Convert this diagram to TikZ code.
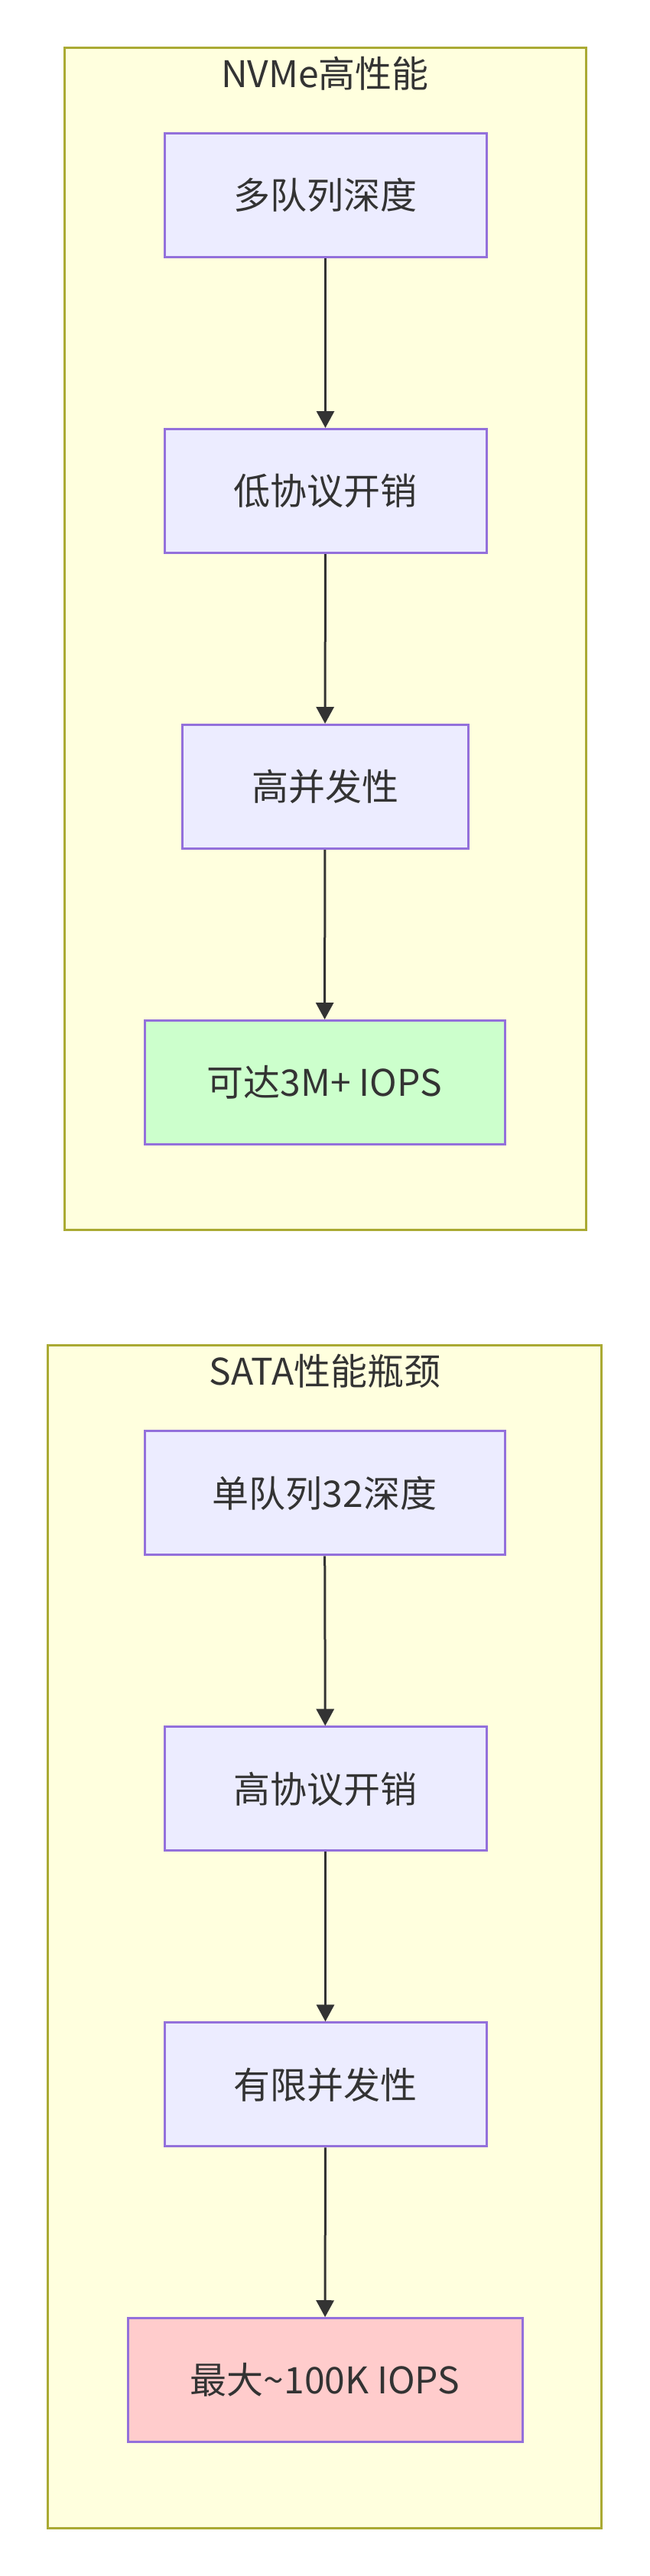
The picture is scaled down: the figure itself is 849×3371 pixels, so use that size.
\documentclass[tikz,border=0pt]{standalone}
\usepackage{fontspec}
\setmainfont{Noto Sans CJK SC}
\usetikzlibrary{arrows.meta}
\definecolor{clfill}{HTML}{FFFFDE}
\definecolor{cldraw}{HTML}{AAAA33}
\definecolor{nfill}{HTML}{ECECFF}
\definecolor{ndraw}{HTML}{9370DB}
\definecolor{gfill}{HTML}{CCFFCC}
\definecolor{rfill}{HTML}{FFCCCC}
\definecolor{txt}{HTML}{333333}
\begin{document}
\begin{tikzpicture}[x=1pt,y=-1pt,
  cluster/.style={draw=cldraw, fill=clfill, line width=3pt, rectangle, inner sep=0pt},
  ctitle/.style={text=txt, font=\fontsize{48pt}{58pt}\selectfont, inner sep=0pt},
  box/.style={draw=ndraw, fill=nfill, line width=3pt, rectangle, inner xsep=0pt, inner ysep=0pt,
    minimum height=162pt, text height=36.5pt, text depth=0pt, text=txt,
    font=\fontsize{48pt}{58pt}\selectfont},
  goodbox/.style={box, fill=gfill},
  badbox/.style={box, fill=rfill},
  arr/.style={draw=txt, line width=3pt, -{Triangle[length=22pt,width=23pt]}}
]
\useasboundingbox[fill=white] (0,0) rectangle (849,3371);

\node[cluster, minimum width=681.4pt, minimum height=1547.3pt] (c1) at (425.3,836.3) {};
\node[ctitle, anchor=base] (t1) at (425,114) {NVMe高性能};
\node[box, minimum width=421pt] (n1) at (425.5,255.5) {多队列深度};
\node[box, minimum width=421pt] (n2) at (425.5,642.5) {低协议开销};
\node[box, minimum width=374pt] (n3) at (425,1029.5) {高并发性};
\node[goodbox, minimum width=471pt] (n4) at (424.5,1416.5) {可达3M+ IOPS};

\node[cluster, minimum width=724.2pt, minimum height=1547.3pt] (c2) at (424.4,2534.4) {};
\node[ctitle, anchor=base] (t2) at (425,1812) {SATA性能瓶颈};
\node[box, minimum width=471pt] (m1) at (424.5,1953.9) {单队列32深度};
\node[box, minimum width=421pt] (m2) at (425.5,2340.9) {高协议开销};
\node[box, minimum width=421pt] (m3) at (425.5,2727.9) {有限并发性};
\node[badbox, minimum width=516pt] (m4) at (425,3114.7) {最大\textasciitilde100K IOPS};

\draw[arr] (n1) -- (n2);
\draw[arr] (n2) -- (n3);
\draw[arr] (n3) -- (n4);
\draw[arr] (m1) -- (m2);
\draw[arr] (m2) -- (m3);
\draw[arr] (m3) -- (m4);
\end{tikzpicture}
\end{document}
